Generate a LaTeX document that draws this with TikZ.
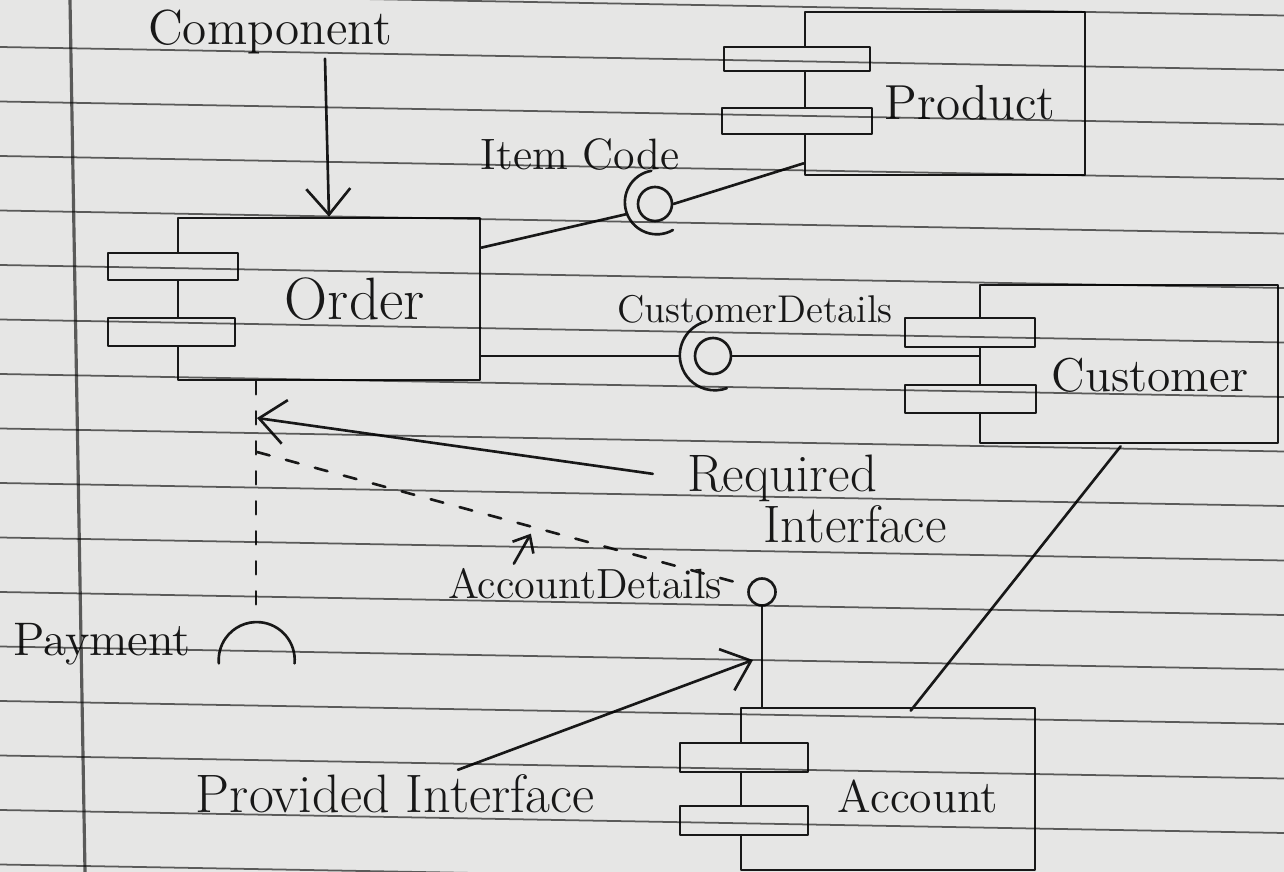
\documentclass[tikz,border=0pt]{standalone}
\usepackage{tikz}
\usetikzlibrary{arrows.meta, positioning, calc}
\definecolor{paper}{RGB}{230,230,229}
\definecolor{ink}{RGB}{24,24,24}
\definecolor{rule}{RGB}{100,100,100}

\tikzset{
  ink/.style={draw=ink, line width=0.75pt, line cap=round, line join=round},
  compbox/.style={ink, rectangle, inner sep=0pt},
  lug/.style={ink, fill=paper},
  hand/.style={text=ink, inner sep=1pt, font=\fontsize{#1}{#1}\selectfont},
  hand/.default=14,
  ball/.style={ink, circle, inner sep=0pt},
  socket/.style={circle, inner sep=0pt},
  barb/.style={ink, -{Straight Barb[length=2.6mm, width=4.4mm]}},
  smallbarb/.style={ink, -{Straight Barb[length=1.4mm, width=2.4mm]}},
  dep/.style={ink, dash pattern=on 1.3mm off 1.7mm},
}

\begin{document}
\begin{tikzpicture}
  % -- Paper --
  \fill[paper] (0,0) rectangle (12.84,-8.72);
  \useasboundingbox (0,0) rectangle (12.84,-8.72);

  % -- Components --
  \node[compbox, minimum width=3.02cm, minimum height=1.62cm] (order) at (3.29,-2.99) {};
  \node[compbox, minimum width=2.80cm, minimum height=1.63cm] (product) at (9.45,-0.935) {};
  \node[compbox, minimum width=2.98cm, minimum height=1.58cm] (customer) at (11.29,-3.64) {};
  \node[compbox, minimum width=2.94cm, minimum height=1.62cm] (account) at (8.88,-7.89) {};

  % component lugs
  \draw[lug] (1.08,-2.53) rectangle (2.38,-2.80);
  \draw[lug] (1.08,-3.18) rectangle (2.35,-3.46);
  \draw[lug] (7.24,-0.47) rectangle (8.70,-0.71);
  \draw[lug] (7.22,-1.08) rectangle (8.72,-1.34);
  \draw[lug] (9.05,-3.18) rectangle (10.35,-3.47);
  \draw[lug] (9.05,-3.85) rectangle (10.36,-4.13);
  \draw[lug] (6.80,-7.43) rectangle (8.08,-7.72);
  \draw[lug] (6.80,-8.06) rectangle (8.08,-8.35);

  % -- Labels --
  \node[hand, anchor=base] (comp) at (2.70,-0.45) {Component};
  \node[hand=17, anchor=base] (ordername) at (3.55,-3.20) {Order};
  \node[hand, anchor=base] (productname) at (9.70,-1.20) {Product};
  \node[hand=12.5, anchor=base] (itemcode) at (5.80,-1.70) {Item Code};
  \node[hand=11, anchor=base] (custdet) at (7.55,-3.22) {CustomerDetails};
  \node[hand=13.5, anchor=base] (customername) at (11.50,-3.92) {Customer};
  \node[hand=15, anchor=base] (req) at (7.82,-4.92) {Required};
  \node[hand=15, anchor=base] (reqint) at (8.55,-5.42) {Interface};
  \node[hand=12, anchor=base] (acctdet) at (5.85,-5.98) {AccountDetails};
  \node[hand=13.4, anchor=base] (payment) at (1.02,-6.55) {Payment};
  \node[hand=15.4, anchor=base] (prov) at (3.95,-8.12) {Provided Interface};
  \node[hand=13, anchor=base] (accountname) at (9.18,-8.12) {Account};

  % -- Interfaces (ball and socket) --
  \node[ball, minimum size=0.34cm] (itemball) at (6.55,-2.04) {};
  \node[socket, minimum size=0.64cm] (itemsock) at (6.57,-2.03) {};
  \draw[ink] (itemsock.100) arc[start angle=100, end angle=300, radius=0.32cm];

  \node[ball, minimum size=0.36cm] (custball) at (7.13,-3.56) {};
  \node[socket, minimum size=0.70cm] (custsock) at (7.15,-3.56) {};
  \draw[ink] (custsock.105) arc[start angle=105, end angle=290, radius=0.35cm];

  \node[ball, minimum size=0.27cm] (acctball) at (7.62,-5.92) {};

  \node[socket, minimum size=0.76cm] (paysock) at (2.56,-6.60) {};
  \draw[ink] (paysock.-5) arc[start angle=-5, end angle=185, radius=0.38cm];

  % -- Connectors --
  \draw[ink] ($(order.north east)+(0,-0.31)$) -- (itemsock.200);
  \draw[ink] (itemball.east) -- ($(product.south west)+(0,0.13)$);
  \draw[ink] (order.east |- custsock.west) -- (custsock.west);
  \draw[ink] (custball.east) -- (custball.east -| customer.west);
  \draw[ink] (acctball.south) -- (acctball.south |- account.north);
  \draw[ink] ($(customer.south west)+(1.42,-0.02)$) -- ($(account.north west)+(1.71,-0.04)$);
  \draw[dep] (paysock.north |- order.south) -- (paysock.north);

  \coordinate (paytap) at (2.57,-4.52);
  \draw[dep] (paytap) -- (acctball.155);

  % -- Pointers --
  \draw[barb] ([xshift=5.5mm]comp.south) -- (order.north);
  \coordinate (reqtip) at (2.57,-4.18);
  \draw[barb] ([xshift=-3mm,yshift=0.5mm]req.west) -- (reqtip);
  \draw[smallbarb] ([xshift=7mm]acctdet.north west) -- ++(0.17,0.30);
  \coordinate (provtip) at (7.53,-6.60);
  \draw[barb] ([xshift=6.3mm]prov.north) -- (provtip);

  % -- Ruled paper --
  \begin{scope}[blend mode=multiply]
    \clip (0,0) rectangle (12.84,-8.72);
    \foreach \k in {-1,...,15}
      \draw[rule, line width=0.5pt] (0,{-(0.47+0.545*\k)}) -- (12.84,{-(0.70+0.545*\k)});
    \draw[rule, line width=0.9pt] (0.70,0) -- (0.85,-8.72);
  \end{scope}
\end{tikzpicture}
\end{document}
